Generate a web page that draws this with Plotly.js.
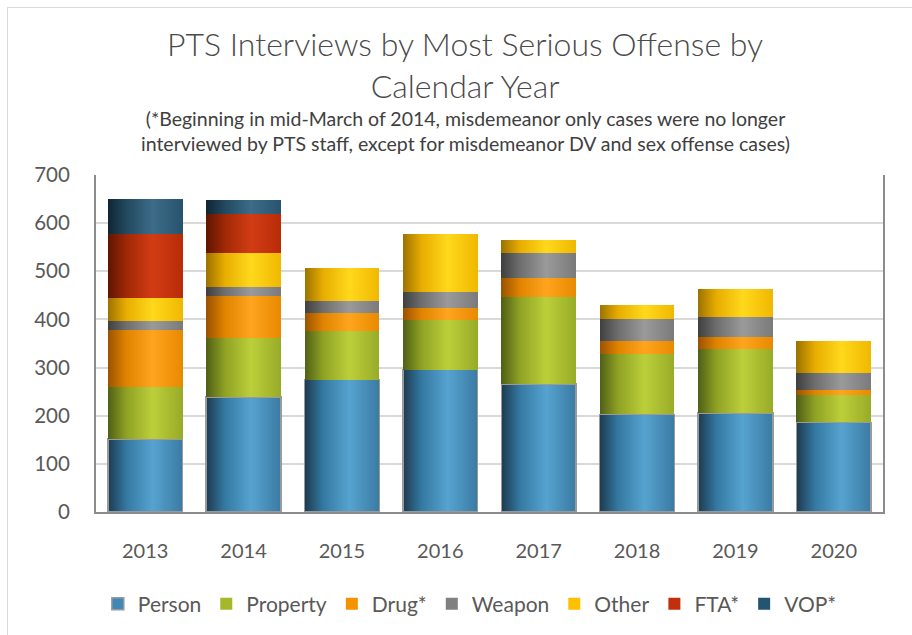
<!DOCTYPE html>
<html>
<head>
<meta charset="utf-8">
<script src="https://cdn.plot.ly/plotly-3.0.1.min.js"></script>
<style>
  html, body { margin: 0; padding: 0; background: #ffffff; overflow: hidden; }
  #frame { position: absolute; left: 7px; top: 7px; width: 920px; height: 660px;
           border-left: 1px solid #d9d9d9; border-top: 1px solid #d9d9d9; pointer-events: none; z-index: 5; }
  #chart { position: absolute; left: 0; top: 0; width: 912px; height: 635px; }
</style>
</head>
<body>
<div id="chart"></div>
<div id="frame"></div>
<script>
// ---- data ----
const years = ['2013', '2014', '2015', '2016', '2017', '2018', '2019', '2020'];
const seriesNames = ['Person', 'Property', 'Drug*', 'Weapon', 'Other', 'FTA*', 'VOP*'];
const person   = [152, 239, 275, 296, 266, 203, 206, 186];
const property = [107, 122, 102, 103, 180, 126, 133, 57];
const drug     = [120, 87, 36, 25, 40, 26, 24, 11];
const weapon   = [18, 19, 26, 34, 53, 46, 43, 35];
const other    = [47, 72, 67, 119, 26, 29, 57, 66];
const fta      = [134, 81, 0, 0, 0, 0, 0, 0];
const vop      = [73, 28, 0, 0, 0, 0, 0, 0];
const yTicks   = [0, 100, 200, 300, 400, 500, 600, 700];

// ---- styles ----
const baseColors = ['#3f88b8', '#a5b82a', '#f59200', '#808080', '#ffc000', '#c0300a', '#235471'];
const gradStops = [
  ['#1d3a4f', '#3479a2', '#56a3d0', '#3a7ba3'],
  ['#4f5f16', '#8fa224', '#bccf3a', '#98ab27'],
  ['#9a5200', '#e08400', '#ffa41e', '#e88a00'],
  ['#3f3f3f', '#6e6e6e', '#9a9a9a', '#7a7a7a'],
  ['#9c7200', '#e8ad00', '#ffd81c', '#f0b800'],
  ['#5e1500', '#a02806', '#d23c14', '#b82c08'],
  ['#0f2533', '#22495f', '#3d6c88', '#28536c']
];
const values = [person, property, drug, weapon, other, fta, vop];
const FONT = 'Lato, "Open Sans", sans-serif';
const TXT = '#595959';

const traces = values.map((v, i) => ({
  type: 'bar',
  name: seriesNames[i],
  x: years,
  y: v,
  marker: {
    color: baseColors[i],
    line: i === 0 ? {color: '#9a9a9a', width: 1.5} : {width: 0}
  },
  hoverinfo: 'skip'
}));

const layout = {
  width: 912,
  height: 635,
  paper_bgcolor: '#ffffff',
  plot_bgcolor: '#ffffff',
  barmode: 'stack',
  bargap: 0.24,
  margin: {l: 96, r: 29, t: 175, b: 122},
  font: {family: FONT, color: TXT},
  title: {
    text: 'PTS Interviews by Most Serious Offense by<br>Calendar Year',
    font: {family: FONT, size: 32, color: '#4a4a4a', weight: 300},
    xref: 'container', x: 0.51, xanchor: 'center',
    yref: 'container', y: 1 - 56 / 635, yanchor: 'middle'
  },
  annotations: [{
    text: '(*Beginning in mid-March of 2014, misdemeanor only cases were no longer<br>interviewed by PTS staff, except for misdemeanor DV and sex offense cases)',
    xref: 'paper', yref: 'paper', x: 0.469, y: 1 + (175 - 130.5) / 338,
    xanchor: 'center', yanchor: 'middle', showarrow: false,
    font: {family: FONT, size: 19.5, color: '#404040'}
  }],
  xaxis: {
    type: 'category',
    showline: true, linecolor: '#8c8c8c', linewidth: 2,
    mirror: false,
    ticks: '', ticklabelstandoff: 20,
    tickfont: {family: FONT, size: 20, color: TXT},
    showgrid: false, zeroline: false, fixedrange: true
  },
  yaxis: {
    range: [0, 700],
    tickvals: yTicks,
    ticktext: yTicks.map(String),
    showline: true, linecolor: '#8c8c8c', linewidth: 2,
    mirror: true,
    ticks: '', ticklabelstandoff: 20,
    tickfont: {family: FONT, size: 20.5, color: TXT},
    showgrid: true, gridcolor: '#d9d9d9', gridwidth: 2,
    zeroline: false, fixedrange: true
  },
  showlegend: true,
  legend: {
    orientation: 'h',
    x: 0.475, xanchor: 'center',
    y: (513 - 604) / 338, yanchor: 'middle',
    font: {family: FONT, size: 21, color: TXT},
    traceorder: 'normal',
    itemwidth: 30,
    itemclick: false, itemdoubleclick: false
  }
};

Plotly.newPlot('chart', traces, layout, {staticPlot: true, displayModeBar: false}).then(gd => {
  const svg = gd.querySelector('svg.main-svg');
  const ns = 'http://www.w3.org/2000/svg';
  let defs = svg.querySelector('defs');
  if (!defs) { defs = document.createElementNS(ns, 'defs'); svg.insertBefore(defs, svg.firstChild); }
  const offsets = ['0%', '25%', '60%', '100%'];
  gradStops.forEach((stops, i) => {
    const g = document.createElementNS(ns, 'linearGradient');
    g.setAttribute('id', 'cyl' + i);
    g.setAttribute('x1', '0'); g.setAttribute('y1', '0');
    g.setAttribute('x2', '1'); g.setAttribute('y2', '0');
    stops.forEach((c, k) => {
      const s = document.createElementNS(ns, 'stop');
      s.setAttribute('offset', offsets[k]);
      s.setAttribute('stop-color', c);
      g.appendChild(s);
    });
    defs.appendChild(g);
  });
  const groups = gd.querySelectorAll('.barlayer .trace');
  groups.forEach((grp, i) => {
    grp.querySelectorAll('path').forEach(p => { p.style.fill = 'url(#cyl' + i + ')'; });
  });
});
</script>
</body>
</html>
